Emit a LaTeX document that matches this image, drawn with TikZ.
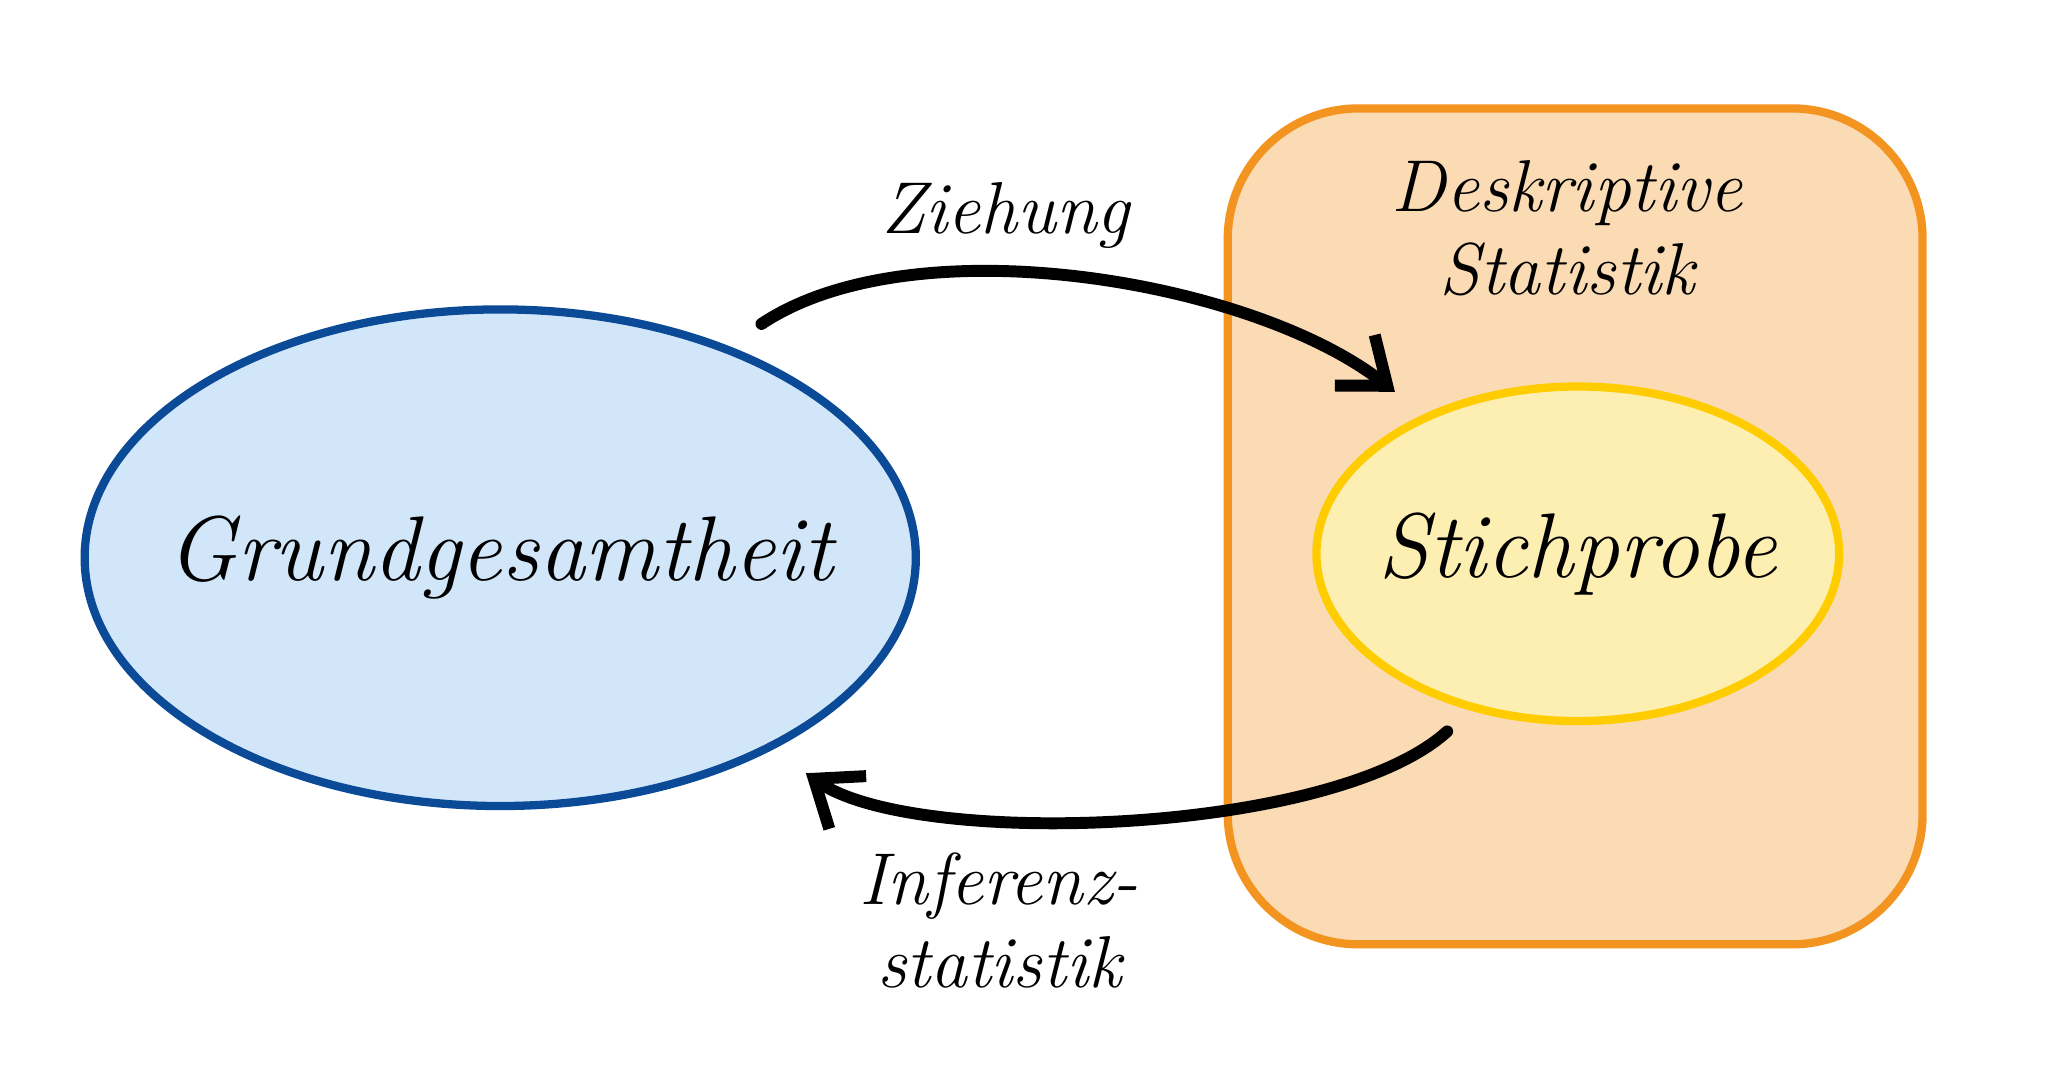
\documentclass[tikz,border=0pt]{standalone}
\usetikzlibrary{arrows.meta,shapes.geometric}
\definecolor{bluefill}{HTML}{D2E6FA}
\definecolor{bluedraw}{HTML}{0B4A96}
\definecolor{orfill}{HTML}{FADBB4}
\definecolor{ordraw}{HTML}{F39420}
\definecolor{yefill}{HTML}{FDEFB2}
\definecolor{yedraw}{HTML}{FFCC00}
\tikzset{
  lbl/.style={font=\itshape\fontsize{16}{18}\selectfont, align=center},
  conn/.style={line width=2.6pt, line cap=round, -{Straight Barb[length=9pt,width=14pt,line width=2.6pt]}},
}
\begin{document}
\begin{tikzpicture}[x=0.01cm,y=-0.01cm]
\useasboundingbox (0,0) rectangle (1568,830);
\fill[white] (0,0) rectangle (1568,830);
\draw[fill=orfill,draw=ordraw,line width=1.8pt,rounded corners=1cm] (940,83) rectangle (1472,723);
\node[draw=bluedraw,fill=bluefill,line width=1.8pt,ellipse,minimum width=6.36cm,minimum height=3.8cm,inner sep=0pt] (gg) at (383,427) {};
\node[font=\itshape\fontsize{20}{24}\selectfont] at (gg) {Grundgesamtheit};
\node[draw=yedraw,fill=yefill,line width=1.8pt,ellipse,minimum width=4cm,minimum height=2.56cm,inner sep=0pt] (sp) at (1208,424) {};
\node[font=\itshape\fontsize{20}{24}\selectfont] at (sp) {Stichprobe};
\coordinate (a1) at (583,248);
\coordinate (a2) at (1068,300);
\draw[conn] (a1) .. controls (700,170) and (960,215) .. (a2);
\coordinate (b1) at (1108,560);
\coordinate (b2) at (617,592);
\draw[conn] (b1) .. controls (1020,640) and (700,650) .. (b2);
\node[lbl] (zi) at (770,165) {Ziehung};
\node[lbl] (ds) at (1200,175) {Deskriptive\\Statistik};
\node[lbl] (is) at (765,705) {Inferenz-\\statistik};
\end{tikzpicture}
\end{document}
